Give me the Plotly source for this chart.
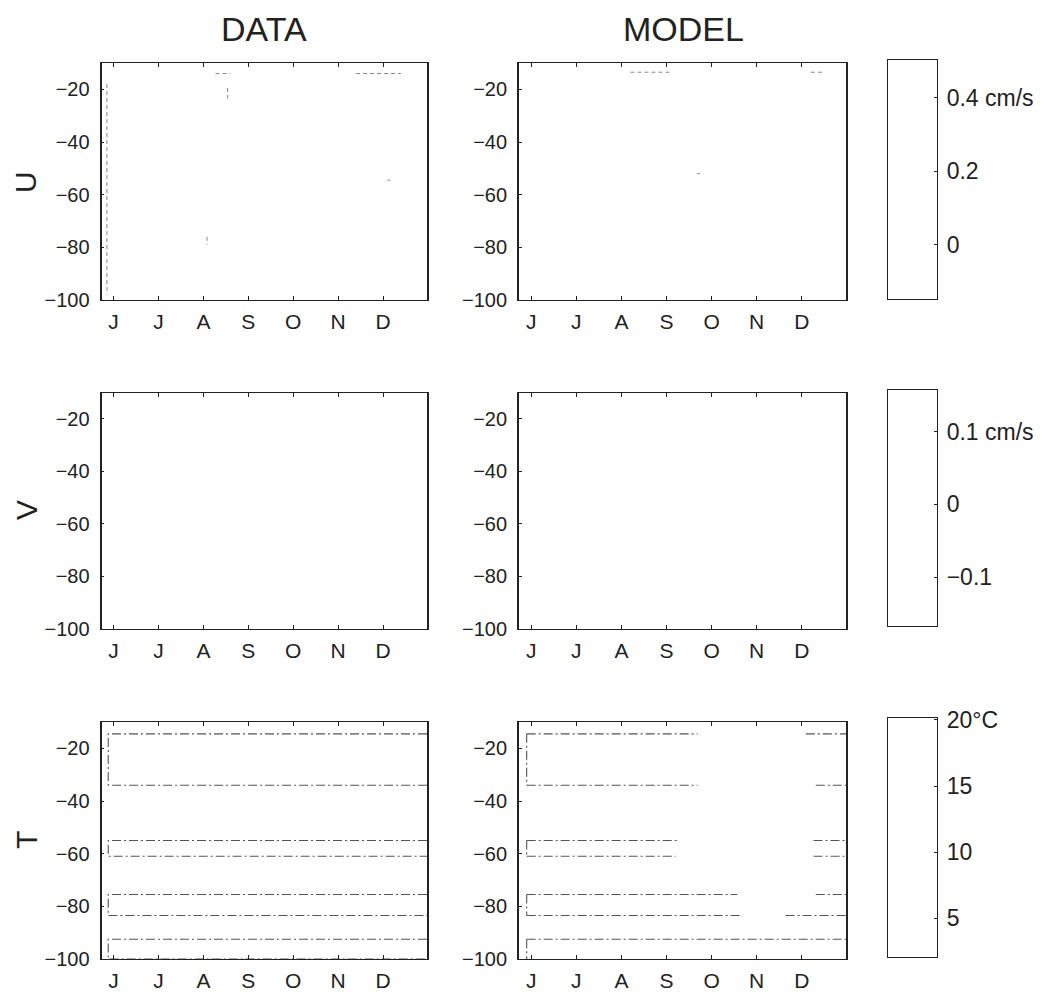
import plotly.graph_objects as go

W, H = 1046, 995
FONT = "Liberation Sans, Arial, Helvetica, sans-serif"
INK = "#222222"
LINE = "#555555"

# ---- axes values -------------------------------------------------------
month_ticks = [6, 7, 8, 9, 10, 11, 12]
month_labels = ["J", "J", "A", "S", "O", "N", "D"]
time_range = [5.73, 12.98]
depth_ticks = [-20, -40, -60, -80, -100]
depth_range = [-100, -10]

# colour keys (U, V in cm/s, T in deg C)
u_key_ticks = [0, 0.2, 0.4]
u_key_labels = ["0", "0.2", "0.4 cm/s"]
u_key_range = [-0.147, 0.505]
v_key_ticks = [-0.1, 0, 0.1]
v_key_labels = ["\u22120.1", "0", "0.1 cm/s"]
v_key_range = [-0.167, 0.157]
t_key_ticks = [5, 10, 15, 20]
t_key_labels = ["5", "10", "15", "20°C"]
t_key_range = [2.05, 20.15]

# ---- observed temperature: isotherm bands (upper / lower depth, m) ------
data_band_top = [-14.5, -55, -75.5, -92.5]
data_band_bottom = [-34, -61, -83.5, -100]
data_band_start = 5.88
data_band_end = 12.98

# ---- model temperature: isotherm depths with their traced extents ------
model_iso_depth = [-14.5, -34, -55, -61, -75.5, -83.5, -92.5]
model_iso_left_end = [9.69, 9.69, 9.24, 9.20, 10.57, 10.64, 12.98]
model_iso_right_start = [12.09, 12.31, 12.26, 12.26, 12.31, 11.64, None]
model_band_start = 5.90

# ---- velocity sections: scattered contour fragments (month, depth) ------
u_data_x0 = [8.27, 8.54, 8.08, 11.40, 12.10, 5.85]
u_data_x1 = [8.60, 8.54, 8.08, 12.40, 12.16, 5.85]
u_data_d0 = [-14.0, -19.5, -76.0, -14.0, -54.5, -18.0]
u_data_d1 = [-14.0, -23.5, -79.0, -14.0, -54.5, -98.0]
u_model_x0 = [8.20, 12.20, 9.68]
u_model_x1 = [9.10, 12.50, 9.74]
u_model_d0 = [-13.5, -13.5, -52.0]
u_model_d1 = [-13.5, -13.5, -52.0]

# ---- layout geometry (pixels) -------------------------------------------
col_px = {1: (101.5, 427.0), 2: (519.0, 846.0), 3: (888.0, 937.0)}
row_px = {1: (63.0, 300.0), 2: (392.5, 629.0), 3: (722.0, 959.0)}
key_row_px = {1: (59.5, 298.5), 2: (390.0, 626.0), 3: (718.0, 957.0)}


def dom_x(a, b):
    return [a / W, b / W]


def dom_y(a, b):
    return [1 - b / H, 1 - a / H]


fig = go.Figure()
layout = dict(
    width=W, height=H,
    margin=dict(l=0, r=0, t=0, b=0, autoexpand=False),
    paper_bgcolor="white", plot_bgcolor="white",
    showlegend=False,
    font=dict(family=FONT, color=INK),
)

idx = 0
for r in (1, 2, 3):
    for c in (1, 2, 3):
        idx += 1
        xa = "xaxis" if idx == 1 else f"xaxis{idx}"
        ya = "yaxis" if idx == 1 else f"yaxis{idx}"
        xref = "x" if idx == 1 else f"x{idx}"
        yref = "y" if idx == 1 else f"y{idx}"
        if c < 3:
            layout[xa] = dict(
                domain=dom_x(*col_px[c]), anchor=yref, range=time_range,
                tickmode="array", tickvals=month_ticks, ticktext=month_labels,
                ticks="inside", ticklen=4, tickcolor=INK, showgrid=False,
                zeroline=False, showline=True, linecolor=INK, linewidth=1.3,
                mirror="ticks", tickfont=dict(size=21, family=FONT, color=INK),
                ticklabelstandoff=3, automargin=False,
            )
            layout[ya] = dict(
                domain=dom_y(*row_px[r]), anchor=xref, range=depth_range,
                tickmode="array", tickvals=depth_ticks,
                ticks="inside", ticklen=3, tickcolor=INK, showgrid=False,
                zeroline=False, showline=True, linecolor=INK, linewidth=1.8,
                mirror=True, tickfont=dict(size=20, family=FONT, color=INK),
                ticklabelstandoff=6, automargin=False,
            )
            # empty trace so the section frame is drawn
            fig.add_trace(go.Scatter(x=[], y=[], mode="lines", xaxis=xref,
                                     yaxis=yref, hoverinfo="skip", showlegend=False))
        else:
            kt, kl, kr = [(u_key_ticks, u_key_labels, u_key_range),
                          (v_key_ticks, v_key_labels, v_key_range),
                          (t_key_ticks, t_key_labels, t_key_range)][r - 1]
            layout[xa] = dict(
                domain=dom_x(*col_px[3]), anchor=yref, range=[0, 1],
                showticklabels=False, ticks="", showgrid=False, zeroline=False,
                showline=True, linecolor=INK, linewidth=1.2, mirror=True,
                automargin=False,
            )
            layout[ya] = dict(
                domain=dom_y(*key_row_px[r]), anchor=xref, range=kr, side="right",
                tickmode="array", tickvals=kt, ticktext=kl,
                ticks="inside", ticklen=3, tickcolor=INK, showgrid=False,
                zeroline=False, showline=True, linecolor=INK, linewidth=1.2,
                mirror=True, tickfont=dict(size=23, family=FONT, color=INK),
                ticklabelstandoff=4, automargin=False,
            )
            # colour key strip (washed-out white shading)
            fig.add_trace(go.Heatmap(
                x=[0, 1], y=[kr[0], kr[1]], z=[[kr[0], kr[0]], [kr[1], kr[1]]],
                colorscale=[[0, "white"], [1, "white"]], showscale=False,
                hoverinfo="skip", xaxis=xref, yaxis=yref,
            ))

fig.update_layout(**layout)

line_style = dict(color=LINE, width=1.1, dash="9px,3px,2px,3px")


def add_path(xs, ys, xref, yref, style=line_style):
    fig.add_trace(go.Scatter(
        x=xs, y=ys, mode="lines", line=style, hoverinfo="skip",
        xaxis=xref, yaxis=yref, showlegend=False,
    ))


# U fragments
for x0, x1, d0, d1 in zip(u_data_x0, u_data_x1, u_data_d0, u_data_d1):
    add_path([x0, x1], [d0, d1], "x", "y",
             dict(color="#888888", width=1, dash="4px,3px"))
for x0, x1, d0, d1 in zip(u_model_x0, u_model_x1, u_model_d0, u_model_d1):
    add_path([x0, x1], [d0, d1], "x2", "y2",
             dict(color="#888888", width=1, dash="4px,3px"))

# observed T: closed isotherm bands running to the end of the record
for top, bot in zip(data_band_top, data_band_bottom):
    add_path([data_band_end, data_band_start, data_band_start, data_band_end],
             [top, top, bot, bot], "x7", "y7")

# model T: left-hand band closures
for top, bot in zip(data_band_top, data_band_bottom):
    add_path([model_band_start, model_band_start], [top, bot], "x8", "y8")
# model T: isotherm segments
for d, le, rs in zip(model_iso_depth, model_iso_left_end, model_iso_right_start):
    add_path([model_band_start, le], [d, d], "x8", "y8")
    if rs is not None:
        add_path([rs, time_range[1]], [d, d], "x8", "y8")

# column titles and row labels
annotations = [
    dict(text="DATA", x=264 / W, y=1 - 29 / H, xref="paper", yref="paper",
         xanchor="center", yanchor="middle", showarrow=False,
         font=dict(size=34, family=FONT, color=INK)),
    dict(text="MODEL", x=683 / W, y=1 - 29 / H, xref="paper", yref="paper",
         xanchor="center", yanchor="middle", showarrow=False,
         font=dict(size=34, family=FONT, color=INK)),
]
for lab, yc in (("U", 182), ("V", 510), ("T", 840)):
    annotations.append(dict(
        text=lab, x=26 / W, y=1 - yc / H, xref="paper", yref="paper",
        xanchor="center", yanchor="middle", showarrow=False, textangle=-90,
        font=dict(size=30, family=FONT, color=INK)))
fig.update_layout(annotations=annotations)

fig.write_html("out.html")
